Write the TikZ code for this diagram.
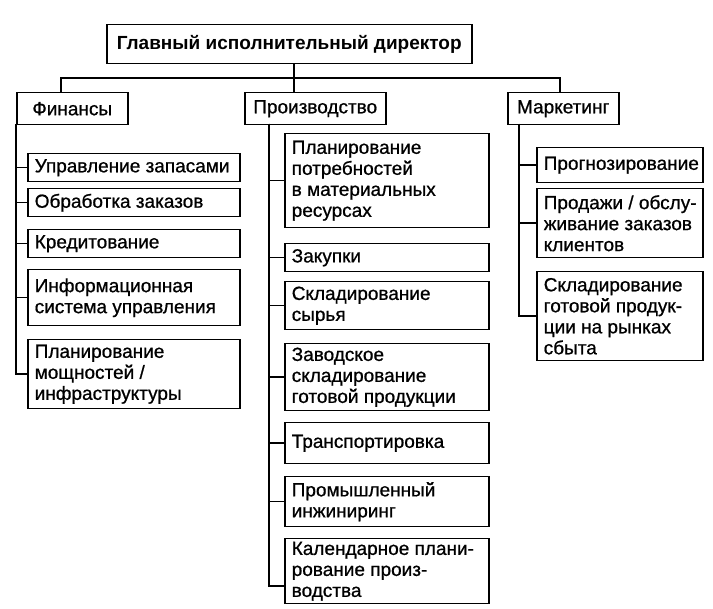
\documentclass[tikz,border=0pt]{standalone}
\usepackage{fontspec}
\setmainfont{Liberation Sans}[UprightFeatures={FakeBold=0.8}]
\begin{document}
\begin{tikzpicture}[x=1pt,y=-1pt,
  line width=1.5pt,
  every node/.style={font=\fontsize{19}{21}\selectfont},
  box/.style={draw, line width=1.5pt, anchor=north west, inner sep=0pt},
  txt/.style={anchor=west, align=left, inner sep=0pt}]
\useasboundingbox (0,0) rectangle (713,609);
\newcommand{\bx}[6]{%
  \pgfmathsetmacro{\bw}{#4-#2}\pgfmathsetmacro{\bh}{#5-#3}%
  \node[box, minimum width=\bw pt, minimum height=\bh pt] (#1) at (#2,#3) {};
  \node[txt] (#1t) at ([xshift=7pt]#1.west) {#6};}
\newcommand{\hb}[6]{%
  \pgfmathsetmacro{\bw}{#4-#2}\pgfmathsetmacro{\bh}{#5-#3}%
  \node[box, minimum width=\bw pt, minimum height=\bh pt] (#1) at (#2,#3) {};
  \node[anchor=center, inner sep=0pt] (#1t) at (#1.center) {#6};}
% top
\hb{ceo}{106}{24}{471}{63}{\textbf{Главный исполнительный директор}}
\hb{fin}{16}{92}{127}{124}{Финансы}
\hb{prod}{244}{92}{385}{124}{Производство}
\hb{mkt}{507}{92}{618}{124}{Маркетинг}
\coordinate (busL) at (61,78);
\coordinate (busC) at (294,78);
\coordinate (busR) at (560,78);
\draw (fin.north -| busL) |- (busR) -- (mkt.north -| busR);
\draw (ceo.south -| busC) -- (prod.north -| busC);
% finance
\bx{f1}{27}{153}{239}{181}{Управление запасами}
\bx{f2}{27}{188}{239}{216}{Обработка заказов}
\bx{f3}{27}{229}{239}{257}{Кредитование}
\bx{f4}{27}{269}{239}{325}{Информационная\\система управления}
\bx{f5}{27}{339}{239}{408}{Планирование\\мощностей /\\инфраструктуры}
\coordinate (fs) at (16,124);
\foreach \c in {f1,f2,f3,f4,f5} \draw (fs) |- (\c.west);
% production
\bx{p1}{284}{133}{488}{227}{Планирование\\потребностей\\в материальных\\ресурсах}
\bx{p2}{284}{243}{488}{271}{Закупки}
\bx{p3}{284}{281}{488}{329}{Складирование\\сырья}
\bx{p4}{284}{343}{488}{410}{Заводское\\складирование\\готовой продукции}
\bx{p5}{284}{422}{488}{463}{Транспортировка}
\bx{p6}{284}{476}{488}{526}{Промышленный\\инжиниринг}
\bx{p7}{284}{538}{488}{603}{Календарное плани-\\рование произ-\\водства}
\coordinate (ps) at (269,124);
\foreach \c in {p1,p2,p3,p4,p5,p6} \draw (ps) |- (\c.west);
\draw (ps) |- ([yshift=-15pt]p7.west);
% marketing
\bx{m1}{536}{147}{702}{182}{Прогнозирование}
\bx{m2}{536}{188}{702}{257}{Продажи / обслу-\\живание заказов\\клиентов}
\bx{m3}{536}{271}{702}{360}{Складирование\\готовой продук-\\ции на рынках\\сбыта}
\coordinate (ms) at (519,124);
\foreach \c in {m1,m2,m3} \draw (ms) |- (\c.west);
\end{tikzpicture}
\end{document}
